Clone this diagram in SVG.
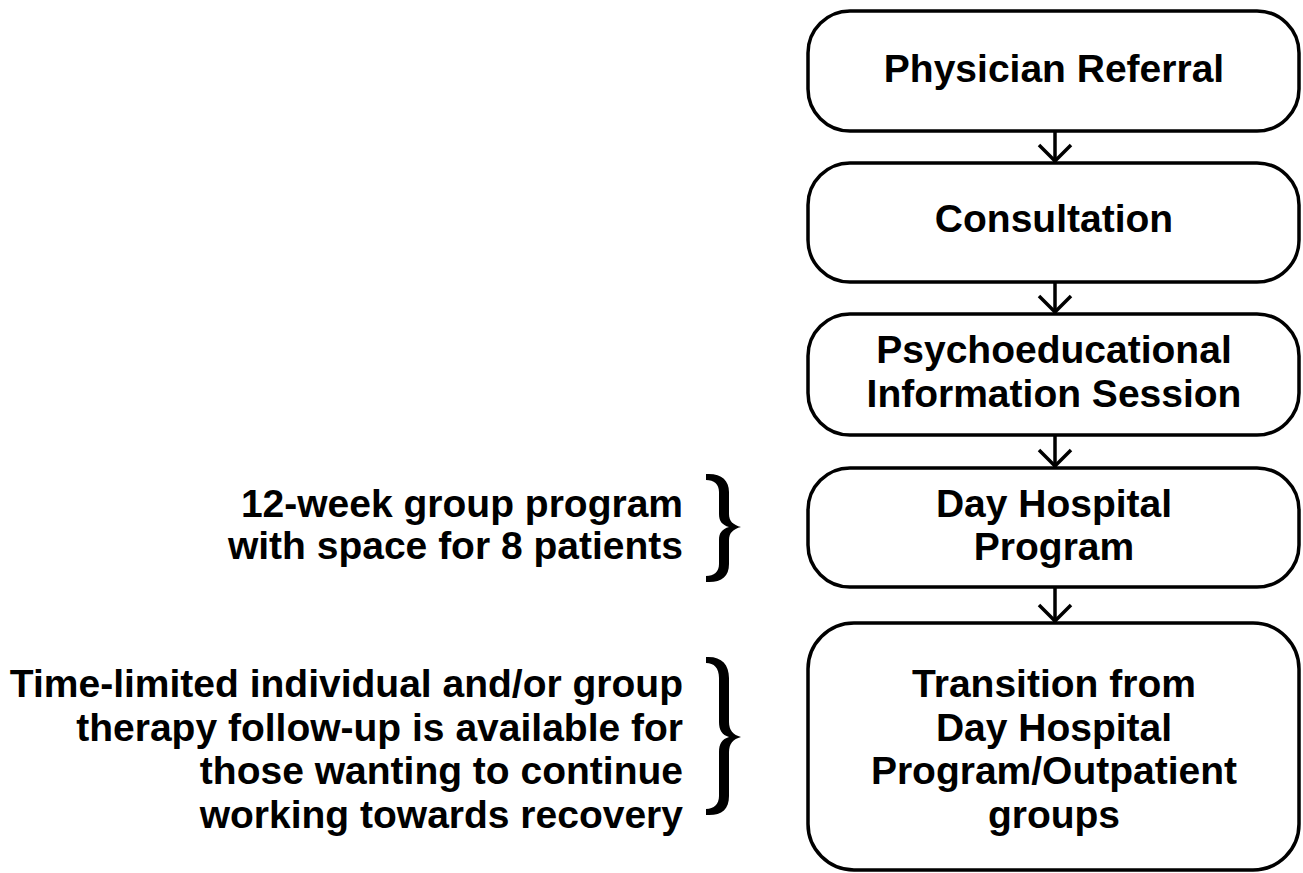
<svg xmlns="http://www.w3.org/2000/svg" width="1303" height="873" viewBox="0 0 1303 873">
  <style>
    .box { fill: #ffffff; stroke: #000000; stroke-width: 3.5; }
    .label { font-family: "Liberation Sans", Arial, sans-serif; font-weight: bold; font-size: 39px; fill: #000000; }
    .mid { text-anchor: middle; }
    .right { text-anchor: end; }
    .conn { fill: none; stroke: #000000; stroke-width: 3.5; }
    .brace { fill: #000000; stroke: none; }
  </style>

  <rect width="1303" height="873" fill="#ffffff"/>

  <!-- connectors between the stages: shaft plus open chevron head -->
  <g id="connectors">
    <line class="conn" x1="1055" y1="131" x2="1055" y2="162"/>
    <path class="conn" d="M1039 145 L1055 161 L1071 145"/>
    <line class="conn" x1="1055" y1="282" x2="1055" y2="313"/>
    <path class="conn" d="M1039 296 L1055 312 L1071 296"/>
    <line class="conn" x1="1055" y1="435" x2="1055" y2="467"/>
    <path class="conn" d="M1039 450 L1055 466 L1071 450"/>
    <line class="conn" x1="1055" y1="587" x2="1055" y2="622"/>
    <path class="conn" d="M1039 605 L1055 621 L1071 605"/>
  </g>

  <g id="node-referral">
    <rect class="box" x="808" y="11" width="491" height="120" rx="42" ry="42"/>
    <text class="label mid" x="1054" y="82">Physician Referral</text>
  </g>

  <g id="node-consultation">
    <rect class="box" x="808" y="163" width="491" height="119" rx="42" ry="42"/>
    <text class="label mid" x="1054" y="232">Consultation</text>
  </g>

  <g id="node-info-session">
    <rect class="box" x="808" y="314" width="491" height="121" rx="42" ry="42"/>
    <text class="label mid" x="1054" y="363">Psychoeducational</text>
    <text class="label mid" x="1054" y="407">Information Session</text>
  </g>

  <g id="node-day-hospital">
    <rect class="box" x="808" y="468" width="491" height="119" rx="42" ry="42"/>
    <text class="label mid" x="1054" y="517">Day Hospital</text>
    <text class="label mid" x="1054" y="560">Program</text>
  </g>

  <g id="node-transition">
    <rect class="box" x="808" y="623" width="491" height="247" rx="46" ry="46"/>
    <text class="label mid" x="1054" y="697">Transition from</text>
    <text class="label mid" x="1054" y="741">Day Hospital</text>
    <text class="label mid" x="1054" y="784">Program/Outpatient</text>
    <text class="label mid" x="1054" y="828">groups</text>
  </g>

  <!-- note beside the day hospital stage -->
  <g id="note-day-hospital">
    <text class="label right" x="683" y="517">12-week group program</text>
    <text class="label right" x="683" y="559">with space for 8 patients</text>
    <path class="brace" d="M706 474 C721 473 729 480 729 492 L729 514 C729 521 733 525 741 527 C733 529 729 533 729 540 L729 564 C729 577 721 583 706 582 L706 576 C714 576 719 572 719 564 L719 540 C719 533 722 529 729 527 C722 525 719 521 719 514 L719 492 C719 484 714 480 706 480 Z"/>
  </g>

  <!-- note beside the transition stage -->
  <g id="note-transition">
    <text class="label right" x="683" y="697">Time-limited individual and/or group</text>
    <text class="label right" x="683" y="741">therapy follow-up is available for</text>
    <text class="label right" x="683" y="784">those wanting to continue</text>
    <text class="label right" x="683" y="828">working towards recovery</text>
    <path class="brace" d="M706 657 C721 656 729 664 729 678 L729 722 C729 730 733 735 741 737 C733 739 729 744 729 752 L729 796 C729 810 721 816 706 815 L706 809 C714 809 719 804 719 796 L719 752 C719 744 722 739 729 737 C722 735 719 730 719 722 L719 678 C719 668 714 663 706 663 Z"/>
  </g>
</svg>
